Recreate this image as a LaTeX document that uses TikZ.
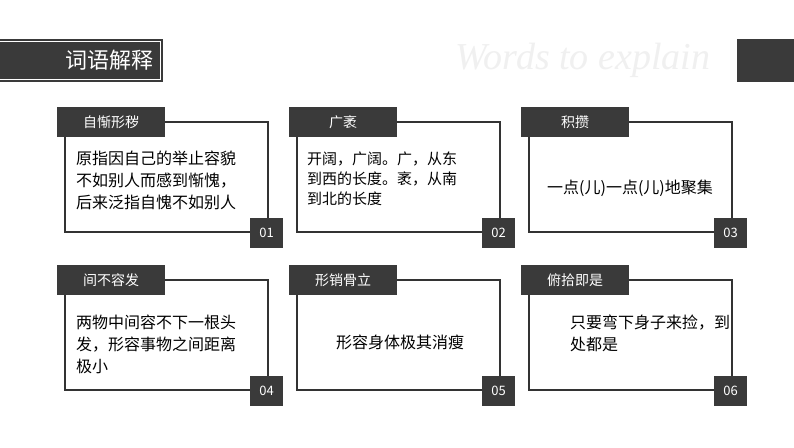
\documentclass[tikz,border=0pt]{standalone}
\usepackage{fontspec}
\setmainfont{Noto Sans CJK SC}
\newfontfamily\wfont{Liberation Serif}
\definecolor{dk}{HTML}{333333}
\definecolor{tab}{HTML}{3A3A3A}
\begin{document}
\begin{tikzpicture}[x=1pt,y=-1pt,
  outl/.style={draw=dk,line width=1.3pt},
  tabbox/.style={fill=tab,text=white,minimum width=108pt,minimum height=30pt,inner sep=0pt,font=\fontsize{14}{16}\selectfont},
  numbox/.style={fill=tab,text=white,minimum width=33pt,minimum height=30pt,inner sep=0pt,font=\fontsize{13}{15}\selectfont},
  body/.style={text=black,font=\fontsize{16}{22}\selectfont,align=left,inner sep=0pt,anchor=north west}]
\useasboundingbox (0,0) rectangle (794,447);
\fill[white] (0,0) rectangle (794,447);
% header
\fill[tab] (0,39) rectangle (163,82);
\draw[white,line width=0.8pt] (-2,41.5) rectangle (160.5,79.5);
\node[text=white,font=\fontsize{22}{24}\selectfont,anchor=east] (hd) at (157,60) {词语解释};
\node[text=black!6,font=\wfont\itshape\fontsize{38}{40}\selectfont,anchor=west] (wd) at (452,60) {Words to explain};
\fill[tab] (737,39) rectangle (794,82);
% cards
\foreach \cx/\cy/\t/\n [count=\i] in {65/122/自惭形秽/01,297/122/广袤/02,529/122/积攒/03,65/280/间不容发/04,297/280/形销骨立/05,529/280/俯拾即是/06}{
  \draw[outl] (\cx,\cy) rectangle ++(203,110);
  \node[tabbox] (t\i) at (\cx+46,\cy) {\t};
  \node[numbox] (n\i) at (\cx+201.5,\cy+111) {\n};
}
\node[body] (b1) at (76,151) {原指因自己的举止容貌\\不如别人而感到惭愧，\\后来泛指自愧不如别人};
\node[body,font=\fontsize{15}{20}\selectfont] (b2) at (307,152) {开阔，广阔。广，从东\\到西的长度。袤，从南\\到北的长度};
\node[body,anchor=center] (b3) at (630,188) {一点(儿)一点(儿)地聚集};
\node[body] (b4) at (76,315) {两物中间容不下一根头\\发，形容事物之间距离\\极小};
\node[body,anchor=center] (b5) at (400,342) {形容身体极其消瘦};
\node[body] (b6) at (570,315) {只要弯下身子来捡，到\\处都是};
\end{tikzpicture}
\end{document}
